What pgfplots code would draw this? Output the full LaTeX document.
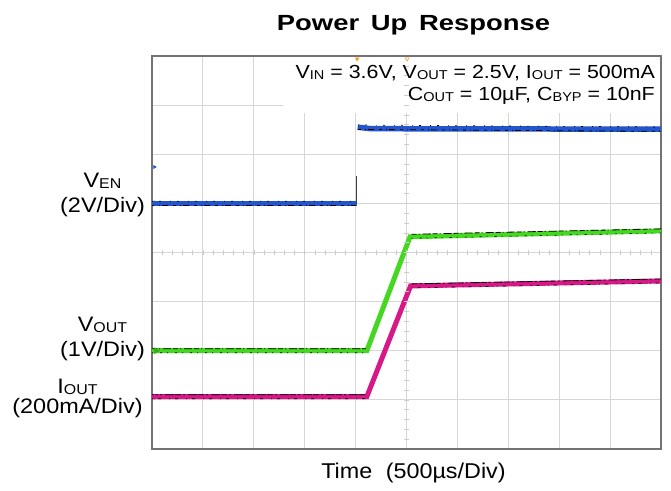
\documentclass[border=0pt]{standalone}
\usepackage{pgfplots}
\pgfplotsset{compat=1.18}
\usepackage{fontspec}
\setmainfont{Liberation Sans}
\usepackage{graphicx}
\definecolor{tblue}{RGB}{35,85,205}
\definecolor{tgreen}{RGB}{70,215,35}
\definecolor{tmag}{RGB}{215,25,135}
\definecolor{gridgray}{RGB}{214,214,214}
\definecolor{framegray}{RGB}{115,115,115}
\definecolor{trig}{RGB}{240,160,40}
\newcommand{\sub}[1]{\raisebox{-0.1ex}{\scalebox{0.68}{#1}}}
\newcommand{\wide}[1]{\scalebox{1.12}[1]{#1}}
\begin{document}
\begin{tikzpicture}[x=1bp,y=1bp]
\path[use as bounding box] (0,0) rectangle (671,491);
\begin{axis}[
  at={(152bp,42bp)}, anchor=south west,
  scale only axis, width=509bp, height=393bp,
  xmin=0, xmax=10, ymin=0, ymax=8,
  xtick={0,...,10}, ytick={0,...,8},
  xticklabels={}, yticklabels={},
  major tick length=0pt,
  grid=major,
  major grid style={draw=gridgray, line width=0.9bp},
  axis line style={draw=framegray, line width=1.4bp},
  clip=false,
  unbounded coords=jump,
]
% white annotation box over the grid
\fill[white] (axis cs:2.57,6.84) rectangle (axis cs:9.98,7.98);
% V_EN
\addplot[tblue, line width=5.5bp] coordinates {(0,5.0) (4.02,5.0)};
\addplot[black!75, line width=0.8bp] coordinates {(4.02,5.0) (4.02,5.55)};
\addplot[tblue, line width=5.5bp] coordinates {(4.04,6.55) (4.3,6.52) (10,6.51)};
\addplot[black, line width=0.8bp, dash pattern=on 3bp off 4bp on 1bp off 2bp on 6bp off 5bp, yshift=-2.2bp] coordinates {(0,5.0) (4.0,5.0) (4.02,nan) (4.05,6.55) (10,6.51)};
\addplot[black, line width=0.7bp, dash pattern=on 1bp off 6bp on 2bp off 9bp, yshift=2.2bp] coordinates {(0,5.0) (4.0,5.0) (4.02,nan) (4.05,6.55) (10,6.51)};
% V_OUT
\addplot[tgreen, line width=5bp] coordinates {(0,2.0) (4.22,2.0) (5.07,4.32) (10,4.44)};
\addplot[black, line width=0.8bp, dash pattern=on 5bp off 2bp on 1bp off 3bp on 8bp off 2bp, yshift=2bp] coordinates {(0,2.0) (4.2,2.0) (4.5,nan) (5.1,4.33) (10,4.44)};
\addplot[black, line width=0.7bp, dash pattern=on 1bp off 7bp on 2bp off 5bp, yshift=-2bp] coordinates {(0,2.0) (4.2,2.0) (4.5,nan) (5.1,4.33) (10,4.44)};
% I_OUT
\addplot[tmag, line width=5bp] coordinates {(0,1.065) (4.22,1.065) (5.08,3.32) (10,3.42)};
\addplot[black, line width=0.8bp, dash pattern=on 6bp off 2bp on 2bp off 3bp on 9bp off 1bp, yshift=2bp] coordinates {(0,1.065) (4.2,1.065) (4.5,nan) (5.1,3.32) (10,3.42)};
\addplot[black, line width=0.7bp, dash pattern=on 1bp off 5bp on 3bp off 8bp, yshift=-2bp] coordinates {(0,1.065) (4.2,1.065) (4.5,nan) (5.1,3.32) (10,3.42)};
% channel markers
\addplot[only marks, mark=triangle*, mark size=3bp, mark options={rotate=-90, tblue}] coordinates {(0.07,5.0)};
\addplot[only marks, mark=triangle*, mark size=1.8bp, mark options={rotate=-90, tblue}] coordinates {(0.05,5.74)};
\addplot[only marks, mark=triangle*, mark size=3.5bp, mark options={rotate=-90, tgreen!80!black}] coordinates {(0.08,2.0)};
\addplot[only marks, mark=triangle*, mark size=3bp, mark options={rotate=-90, tmag}] coordinates {(0.07,1.065)};
% trigger markers
\addplot[only marks, mark=triangle*, mark size=2.2bp, mark options={rotate=180, draw=trig, fill=trig}] coordinates {(4.03,7.94)};
\addplot[only marks, mark=triangle, mark size=2.2bp, mark options={rotate=180, draw=trig, line width=0.6bp}] coordinates {(5.01,7.94)};
\end{axis}
% minor graticule ticks on the centre lines
\foreach \i in {1,...,49} \draw[black!20, line width=0.6bp] ({152+\i*10.18},236) -- ++(0,5);
\foreach \j in {1,...,39} \draw[black!20, line width=0.6bp] (404,{42+\j*9.825}) -- ++(5,0);
% title
\node[font=\fontsize{22}{26}\selectfont\bfseries] at (413.5,466) {\scalebox{1.25}[1]{Power\hspace{0.15em} Up\hspace{0.15em} Response}};
% annotation
\node[anchor=east, font=\fontsize{19}{22}\selectfont, inner sep=0pt] at (655,418) {\scalebox{1.13}[1]{V\sub{IN} = 3.6V, V\sub{OUT} = 2.5V, I\sub{OUT} = 500mA}};
\node[anchor=east, font=\fontsize{19}{22}\selectfont, inner sep=0pt] at (655,395) {\scalebox{1.13}[1]{C\sub{OUT} = 10µF, C\sub{BYP} = 10nF}};
% left labels
\node[font=\fontsize{21}{24}\selectfont, inner sep=0pt] at (102.5,310) {\wide{V\sub{EN}}};
\node[font=\fontsize{21}{24}\selectfont, inner sep=0pt] at (102.5,284) {\wide{(2V/Div)}};
\node[font=\fontsize{21}{24}\selectfont, inner sep=0pt] at (102.5,166) {\wide{V\sub{OUT}}};
\node[font=\fontsize{21}{24}\selectfont, inner sep=0pt] at (102.5,140) {\wide{(1V/Div)}};
\node[font=\fontsize{21}{24}\selectfont, inner sep=0pt] at (77.5,104) {\wide{I\sub{OUT}}};
\node[font=\fontsize{21}{24}\selectfont, inner sep=0pt] at (77.5,83) {\wide{(200mA/Div)}};
% x label
\node[font=\fontsize{21.5}{24}\selectfont] at (413.5,18) {\scalebox{1.09}[1]{Time\hspace{0.3em} (500µs/Div)}};
\end{tikzpicture}
\end{document}
